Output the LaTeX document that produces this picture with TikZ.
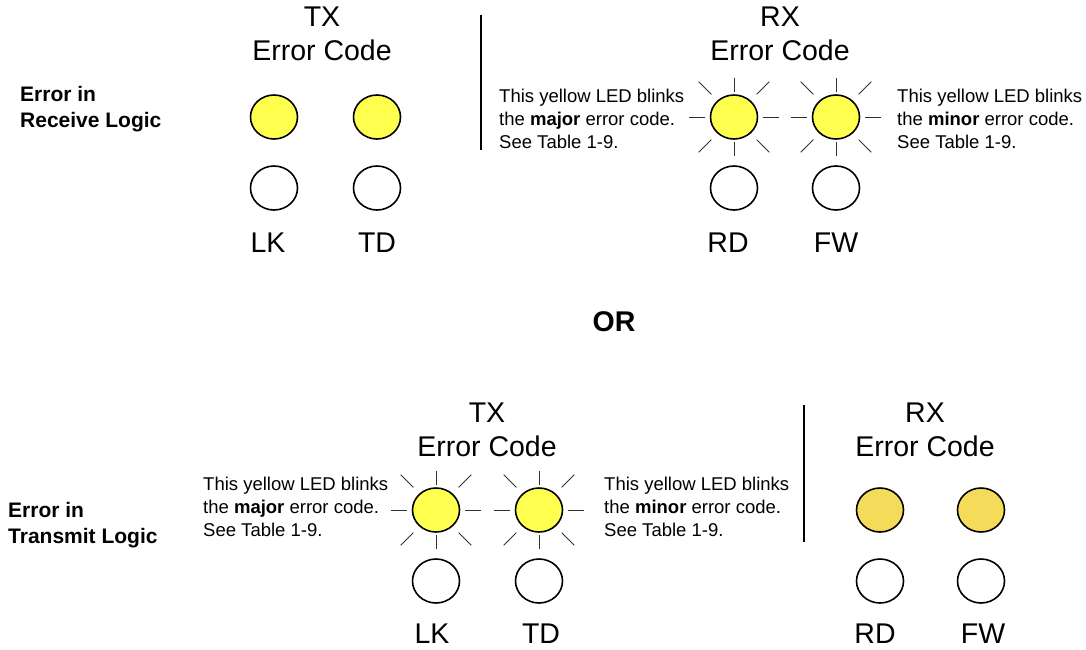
\documentclass[tikz,border=0pt]{standalone}
\usepackage{fontspec}
\setmainfont{Liberation Sans}
\usetikzlibrary{shapes.geometric}
\definecolor{ledyellow}{RGB}{255,255,80}
\definecolor{ledgold}{RGB}{245,219,90}
\definecolor{raygray}{RGB}{50,50,50}

% short rays round a blinking led
\newcommand{\ledrays}[1]{%
  \foreach \a/\ri/\ro in {0/29/45,45/32/50,90/25/39,135/32/50,180/29/45,225/32/50,270/25/39,315/32/50}
    \draw[raygray,line width=1pt] (#1) ++(\a:\ri) -- ++(\a:\ro-\ri);}

\begin{document}
\begin{tikzpicture}[x=1pt,y=-1pt,
  led/.style={ellipse,draw,line width=1.6pt,minimum width=47,minimum height=44,inner sep=0},
  on/.style={led,fill=ledyellow},
  dim/.style={led,fill=ledgold},
  off/.style={led,fill=white},
  head/.style={align=center,inner sep=0,font=\fontsize{28.5}{34}\selectfont},
  tag/.style={inner sep=0,font=\fontsize{28.5}{34}\selectfont},
  note/.style={anchor=west,align=left,inner sep=0,font=\fontsize{18.5}{23}\selectfont},
  side/.style={anchor=west,align=left,inner sep=0,font=\fontsize{21}{26}\bfseries\selectfont},
  wall/.style={line width=2.5pt}]

  \useasboundingbox (0,0) rectangle (1086,649);

  % receive logic error
  \node[side] (rxside) at (20,109) {Error in\\Receive Logic};

  \node[head] (txhead1) at (322,34) {TX\\Error Code};
  \node[on] (lk1) at (274,117) {};
  \node[on] (td1) at (377,117) {};
  \node[off] (lk1o) at (274,188) {};
  \node[off] (td1o) at (377,188) {};
  \node[tag] (lk1t) at (268,243) {LK};
  \node[tag] (td1t) at (377,243) {TD};

  \draw[wall] (481,15) -- (481,150);

  \node[head] (rxhead1) at (780,34) {RX\\Error Code};
  \ledrays{734,117}
  \ledrays{836,117}
  \node[on] (rd1) at (734,117) {};
  \node[on] (fw1) at (836,117) {};
  \node[off] (rd1o) at (734,188) {};
  \node[off] (fw1o) at (836,188) {};
  \node[tag] (rd1t) at (728,243) {RD};
  \node[tag] (fw1t) at (836,243) {FW};

  \node[note] (major1) at (499,119) {This yellow LED blinks\\the \textbf{major} error code.\\See Table 1-9.};
  \node[note] (minor1) at (897,119) {This yellow LED blinks\\the \textbf{minor} error code.\\See Table 1-9.};

  \node[tag,font=\fontsize{28.5}{34}\bfseries\selectfont] (or) at (614,322) {OR};

  % transmit logic error
  \node[side] (txside) at (8,525) {Error in\\Transmit Logic};

  \node[head] (txhead2) at (487,430) {TX\\Error Code};
  \ledrays{436,510}
  \ledrays{539,510}
  \node[on] (lk2) at (436,510) {};
  \node[on] (td2) at (539,510) {};
  \node[off] (lk2o) at (436,581) {};
  \node[off] (td2o) at (539,581) {};
  \node[tag] (lk2t) at (432,634) {LK};
  \node[tag] (td2t) at (541,634) {TD};

  \node[note] (major2) at (203,507) {This yellow LED blinks\\the \textbf{major} error code.\\See Table 1-9.};
  \node[note] (minor2) at (604,507) {This yellow LED blinks\\the \textbf{minor} error code.\\See Table 1-9.};

  \draw[wall] (804,405) -- (804,542);

  \node[head] (rxhead2) at (925,430) {RX\\Error Code};
  \node[dim] (rd2) at (880,510) {};
  \node[dim] (fw2) at (981,510) {};
  \node[off] (rd2o) at (880,581) {};
  \node[off] (fw2o) at (981,581) {};
  \node[tag] (rd2t) at (875,634) {RD};
  \node[tag] (fw2t) at (983,634) {FW};

\end{tikzpicture}
\end{document}
